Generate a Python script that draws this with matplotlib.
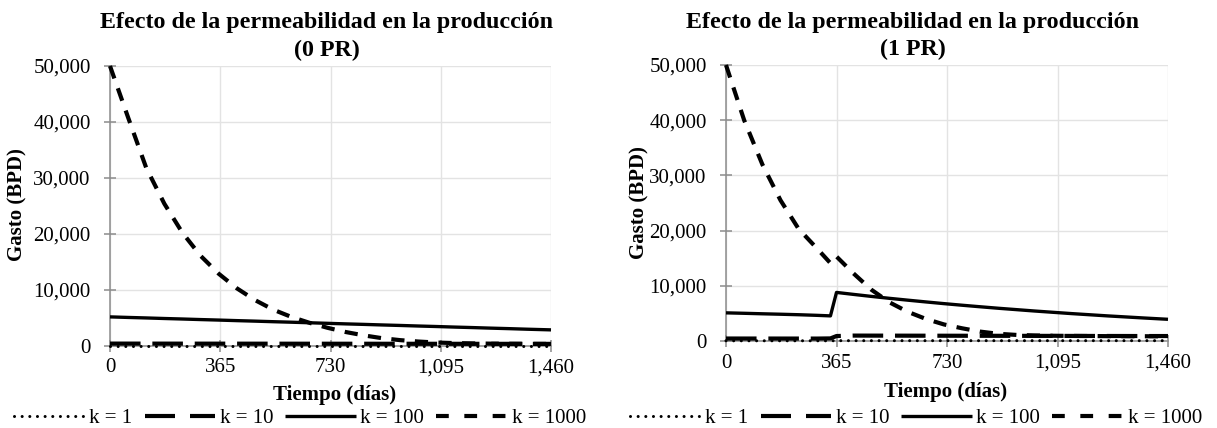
import matplotlib
matplotlib.use("Agg")
import matplotlib.pyplot as plt
from matplotlib.lines import Line2D
from matplotlib.ticker import StrMethodFormatter

plt.rcParams['font.family'] = ['Liberation Serif', 'DejaVu Serif']
plt.rcParams['lines.scale_dashes'] = False

# ---------------- data ----------------
titles = ["Efecto de la permeabilidad en la producción\n(0 PR)",
          "Efecto de la permeabilidad en la producción\n(1 PR)"]
labels = ["k = 1", "k = 10", "k = 100", "k = 1000"]
x_ticks = [0, 365, 730, 1095, 1460]
y_ticks = [0, 10000, 20000, 30000, 40000, 50000]

t_left = [0, 60, 120, 180, 240, 300, 360, 420, 480, 540, 600, 660, 720, 780,
          840, 900, 960, 1020, 1080, 1140, 1200, 1260, 1320, 1380, 1440, 1460]
k1_left = [40, 40, 40, 40, 40, 40, 40, 40, 40, 40, 40, 40, 40, 40,
           40, 40, 40, 40, 40, 40, 40, 40, 40, 40, 40, 40]
k10_left = [430, 428, 426, 424, 422, 420, 418, 416, 414, 412, 410, 408, 406, 404,
            402, 400, 398, 396, 394, 392, 390, 388, 386, 384, 382, 380]
k100_left = [5200, 5100, 5010, 4910, 4820, 4720, 4630, 4530, 4440, 4340, 4250, 4150, 4050, 3950,
             3860, 3760, 3670, 3570, 3480, 3380, 3290, 3190, 3100, 3000, 2910, 2880]
k1000_left = [50000, 40800, 31800, 25400, 20200, 16100, 12900, 10300, 8200, 6500, 5200, 4150, 3250, 2500,
              1900, 1400, 1050, 800, 620, 520, 460, 420, 400, 380, 370, 365]

t_right = [0, 60, 120, 180, 240, 300, 345, 365, 420, 480, 540, 600, 660, 720, 780,
           840, 900, 960, 1020, 1080, 1140, 1200, 1260, 1320, 1380, 1440, 1460]
k1_right = [40, 40, 40, 40, 40, 40, 40, 60, 60, 60, 60, 60, 60, 60, 60,
            60, 60, 60, 60, 60, 60, 60, 60, 60, 60, 60, 60]
k10_right = [450, 448, 446, 444, 442, 440, 470, 900, 980, 975, 970, 965, 960, 955, 950,
             945, 940, 935, 930, 925, 920, 915, 910, 905, 900, 900, 900]
k100_right = [5100, 5020, 4930, 4850, 4760, 4650, 4550, 8800, 8450, 8080, 7730, 7400, 7080, 6770, 6480,
              6200, 5930, 5680, 5430, 5200, 4970, 4760, 4550, 4360, 4170, 3990, 3930]
k1000_right = [50000, 40000, 32000, 25500, 20300, 16800, 14100, 15300, 12300, 9300, 7000, 5300, 4000, 3000, 2300,
               1700, 1300, 1100, 1000, 950, 920, 900, 880, 870, 860, 850, 850]

panels = [
    (t_left, [k1_left, k10_left, k100_left, k1000_left]),
    (t_right, [k1_right, k10_right, k100_right, k1000_right]),
]

# ---------------- styles ----------------
W, H = 1217, 428
styles = [
    dict(lw=2.2, dashes=(0.01, 5.5), dash_capstyle='round'),
    dict(lw=3.0, dashes=(22, 8.5), dash_capstyle='butt'),
    dict(lw=2.4, linestyle='-'),
    dict(lw=3.0, dashes=(9.5, 7.5), dash_capstyle='butt'),
]
legend_styles = [
    dict(lw=2.2, dashes=(0.01, 5.5), dash_capstyle='round'),
    dict(lw=3.0, dashes=(21.6, 10.8), dash_capstyle='butt'),
    dict(lw=2.4, linestyle='-'),
    dict(lw=3.0, dashes=(9.2, 11.2), dash_capstyle='butt'),
]
ax_px = [(110, 66, 551, 346), (726, 65, 1168, 341)]
title_px = [(327, 28, 56), (913, 28, 55)]
ylabel_px = [(17, 205), (639, 203)]
xlabel_px = [(335, 400), (946, 397)]
legend_px = [(300, 418), (916, 418)]
grid_c = '#e3e3e3'
spine_c = '#8c8c8c'
fs = 15

fig = plt.figure(figsize=(W / 100, H / 100), dpi=100)

for i, (t, series) in enumerate(panels):
    x0, y0, x1, y1 = ax_px[i]
    ax = fig.add_axes([x0 / W, (H - y1) / H, (x1 - x0) / W, (y1 - y0) / H])
    for s, lab, st in zip(series, labels, styles):
        ax.plot(t, s, color='black', label=lab, clip_on=False,
                solid_capstyle='butt', zorder=3, **st)
    handles = [Line2D([], [], color='black', solid_capstyle='butt', **st)
               for st in legend_styles]
    ax.set_xlim(0, 1460)
    ax.set_ylim(0, 50000)
    ax.set_xticks(x_ticks)
    ax.set_yticks(y_ticks)
    ax.xaxis.set_major_formatter(StrMethodFormatter('{x:,.0f}'))
    ax.yaxis.set_major_formatter(StrMethodFormatter('{x:,.0f}'))
    ax.grid(True, color=grid_c, lw=1.0, zorder=0)
    ax.set_axisbelow(True)
    for sp in ['top', 'right']:
        ax.spines[sp].set_visible(False)
    for sp in ['left', 'bottom']:
        ax.spines[sp].set_color(spine_c)
        ax.spines[sp].set_linewidth(1.1)
    ax.tick_params(axis='both', direction='inout', length=8.6, width=1.1,
                   color=spine_c, labelsize=fs, labelcolor='black')
    ax.tick_params(axis='y', pad=9.6)
    ax.tick_params(axis='x', pad=4.7)

    tx, b1, b2 = title_px[i]
    l1, l2 = titles[i].split("\n")
    fig.text(tx / W, (H - b1) / H, l1, ha='center', va='baseline',
             fontsize=17.3, fontweight='bold')
    fig.text(tx / W, (H - b2) / H, l2, ha='center', va='baseline',
             fontsize=17.3, fontweight='bold')
    yx, yy = ylabel_px[i]
    fig.text(yx / W, (H - yy) / H, "Gasto (BPD)", rotation=90, ha='center',
             va='center', fontsize=fs, fontweight='bold')
    xx, xy = xlabel_px[i]
    fig.text(xx / W, (H - xy) / H, "Tiempo (días)", ha='center', va='baseline',
             fontsize=fs, fontweight='bold')
    lx, ly = legend_px[i]
    fig.legend(handles=handles, labels=labels, loc='center',
               bbox_to_anchor=(lx / W, (H - ly) / H), ncol=4, frameon=False,
               fontsize=fs, handlelength=3.37, handletextpad=0.24,
               columnspacing=0.58, borderpad=0.0, borderaxespad=0.0)

fig.savefig("out.png", dpi=100, facecolor='white')
